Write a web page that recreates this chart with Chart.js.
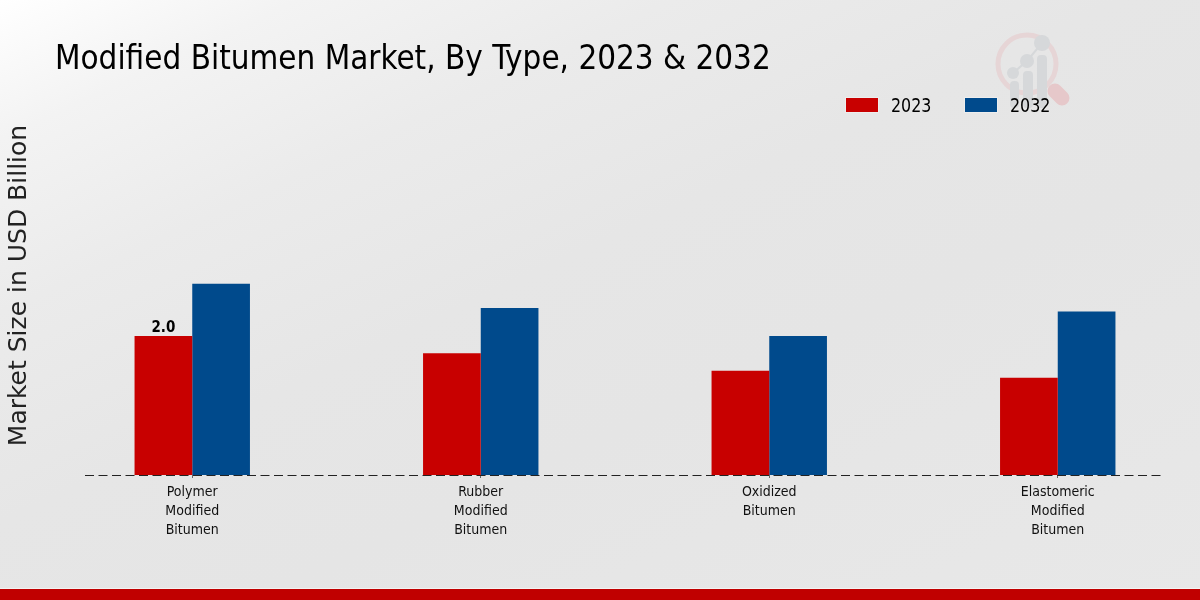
<!DOCTYPE html>
<html>
<head>
<meta charset="utf-8">
<title>Modified Bitumen Market</title>
<script src="https://cdn.jsdelivr.net/npm/chart.js@4"></script>
<style>
    html, body { margin: 0; height: 100%; overflow: hidden; }
    body { position: relative; width: 1200px; height: 600px; background: linear-gradient(155deg, #ffffff 0%, #f3f3f3 12%, #ebebeb 27%, #e6e6e6 45%, #e5e5e5 62%, #e8e8e8 100%); font-family: "DejaVu Sans Condensed", "DejaVu Sans", sans-serif; }
    canvas { position: absolute; left: 0; top: 0; }
    #title { position: absolute; left: 55px; top: 35px; font-size: 34px; line-height: 44px; color: #000; white-space: nowrap; transform: scaleX(0.967); transform-origin: left center; }
    #logo { position: absolute; left: 960px; top: 10px; filter: blur(0.6px); }
    #legend span { position: absolute; top: 93px; font-size: 19px; line-height: 24px; color: #000; transform: scaleX(0.93); transform-origin: left center; }
    #legend i { position: absolute; top: 98px; width: 32px; height: 14px; box-shadow: 0 0 0 1px rgba(255,255,255,0.3); }
    #footer { position: absolute; left: 0; top: 589px; width: 1200px; height: 11px; background: #c00000; box-shadow: 0 -1px 0 rgba(255,255,255,0.5); }
</style>
</head>
<body>
<svg id="logo" width="140" height="120" viewBox="960 10 140 120">
    <circle cx="1027" cy="64" r="29" fill="none" stroke="#e6d5d6" stroke-width="5"/>
    <path d="M1055 91 L1062 98" stroke="#e6c8ca" stroke-width="15" stroke-linecap="round"/>
    <path d="M1013 73 L1027 61 L1042 43" stroke="#d6d8da" stroke-width="2" fill="none"/>
    <g fill="#d6d8da">
        <circle cx="1013" cy="73" r="6"/>
        <circle cx="1027" cy="61" r="7"/>
        <circle cx="1042" cy="43" r="8"/>
        <rect x="1010" y="81" width="9" height="27" rx="4"/>
        <rect x="1023" y="71" width="10" height="37" rx="4"/>
        <rect x="1037" y="55" width="10" height="53" rx="4"/>
    </g>
</svg>
<canvas id="myBarChart" width="1202" height="600" style="width:1202px;height:600px"></canvas>
<div id="title">Modified Bitumen Market, By Type, 2023 &amp; 2032</div>
<div id="legend">
    <i style="left:846px;background:#c80000"></i><span style="left:891px">2023</span>
    <i style="left:965px;background:#004a8c"></i><span style="left:1010px">2032</span>
</div>
<div id="footer"></div>
<script>
const categories = [
    ['Polymer', 'Modified', 'Bitumen'],
    ['Rubber', 'Modified', 'Bitumen'],
    ['Oxidized', 'Bitumen'],
    ['Elastomeric', 'Modified', 'Bitumen']
];
const values2023 = [2.0, 1.75, 1.5, 1.4];
const values2032 = [2.75, 2.4, 2.0, 2.35];
const labels2023 = ['2.0', '', '', ''];
const yMax = 5.45;

const narrowFont = '"DejaVu Sans Condensed", "DejaVu Sans", sans-serif';

// dashed base line and the single value label
const extras = {
    id: 'extras',
    afterDatasetsDraw(chart) {
        const ctx = chart.ctx;
        const y = chart.scales.y.getPixelForValue(0);
        ctx.save();
        ctx.strokeStyle = '#222';
        ctx.lineWidth = 1;
        ctx.setLineDash([9, 4.5]);
        ctx.beginPath();
        ctx.moveTo(85, y + 0.5);
        ctx.lineTo(1163, y + 0.5);
        ctx.stroke();
        ctx.setLineDash([]);

        const bars = chart.getDatasetMeta(0).data;
        ctx.fillStyle = '#000';
        ctx.font = 'bold 15px "DejaVu Sans Condensed", "DejaVu Sans"';
        ctx.textAlign = 'center';
        ctx.textBaseline = 'bottom';
        labels2023.forEach((text, i) => {
            if (text) ctx.fillText(text, bars[i].x, bars[i].y);
        });
        ctx.restore();
    }
};

var ctx = document.getElementById('myBarChart').getContext('2d');
var myBarChart = new Chart(ctx, {
    type: 'bar',
    data: {
        labels: categories,
        datasets: [{
            label: '2023',
            data: values2023,
            backgroundColor: '#c80000'
        }, {
            label: '2032',
            data: values2032,
            backgroundColor: '#004a8c'
        }]
    },
    options: {
        responsive: false,
        animation: false,
        layout: { padding: { top: 96, left: 0, right: 0, bottom: 0 } },
        datasets: { bar: { barPercentage: 1, categoryPercentage: 0.4 } },
        plugins: { legend: { display: false }, tooltip: { enabled: false } },
        scales: {
            x: {
                afterFit(scale) { scale.height = 125; },
                border: { display: false },
                grid: { offset: false, drawOnChartArea: false, drawTicks: true, tickLength: 3, color: '#666' },
                ticks: { maxRotation: 0, autoSkip: false, color: '#111', padding: 5, font: { family: narrowFont, size: 14, lineHeight: 1.36 } }
            },
            y: {
                min: 0,
                max: yMax,
                afterFit(scale) { scale.width = 48; },
                border: { display: false },
                grid: { display: false },
                ticks: { display: false },
                title: { display: true, text: 'Market Size in USD Billion', color: '#222', padding: { top: 4, bottom: 0 }, font: { family: '"DejaVu Sans"', size: 25 } }
            }
        }
    },
    plugins: [extras]
});
</script>
</body>
</html>
